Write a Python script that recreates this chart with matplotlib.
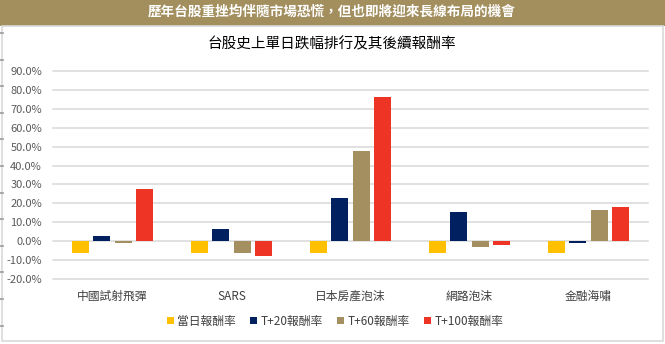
import matplotlib
matplotlib.use("Agg")
import matplotlib.pyplot as plt
from matplotlib.patches import Rectangle, Patch
from matplotlib.lines import Line2D
import numpy as np

plt.rcParams['font.family'] = ['Noto Sans CJK TC', 'DejaVu Sans']

categories = ["中國試射飛彈", "SARS", "日本房產泡沫", "網路泡沫", "金融海嘯"]
series_names = ["當日報酬率", "T+20報酬率", "T+60報酬率", "T+100報酬率"]
day0 = [-6.5, -6.5, -6.5, -6.5, -6.5]
t20 = [2.8, 6.5, 22.8, 15.4, -0.7]
t60 = [-0.8, -6.0, 47.5, -3.0, 16.5]
t100 = [27.5, -8.1, 76.0, -1.8, 18.1]
colors = ["#FFC000", "#002060", "#A38F5F", "#EE3424"]
y_ticks = [-20, -10, 0, 10, 20, 30, 40, 50, 60, 70, 80, 90]

W, H = 665, 344
fig = plt.figure(figsize=(W / 100, H / 100), dpi=100)
fig.patch.set_facecolor("white")

# banner strip across the top
fig.patches.append(Rectangle((0, 1 - 26 / H), 1, 26 / H, transform=fig.transFigure,
                             facecolor="#A38E5E", edgecolor="none", zorder=0))
fig.text(332 / W, 1 - 12 / H, "歷年台股重挫均伴隨市場恐慌，但也即將迎來長線布局的機會",
         color="white", fontsize=9.8, fontweight="bold", ha="center", va="center")

# chart frame
fig.patches.append(Rectangle((2 / W, 1 - 341 / H), 661 / W, 315 / H, transform=fig.transFigure,
                             facecolor="none", edgecolor="#D9D9D9", linewidth=1.2, zorder=0))
# small marks along the left edge
for yy in np.arange(33, 335, 26.6):
    fig.lines.append(Line2D([0, 3 / W], [1 - yy / H, 1 - yy / H], transform=fig.transFigure,
                            color="#9A9A9A", linewidth=1.2))

fig.text(332 / W, 1 - 44 / H, "台股史上單日跌幅排行及其後續報酬率",
         color="black", fontsize=10.5, ha="center", va="center")

left, right, top, bottom = 53, 648, 71, 279
ax = fig.add_axes([left / W, 1 - bottom / H, (right - left) / W, (bottom - top) / H])
ax.set_facecolor("none")

x = np.arange(len(categories))
step = 0.181
width = 0.143
for i, (vals, col, name) in enumerate(zip([day0, t20, t60, t100], colors, series_names)):
    ax.bar(x + (i - 1.5) * step, vals, width=width, color=col, label=name, zorder=3)

ax.set_xlim(-0.5, len(categories) - 0.5)
ax.set_ylim(-20, 90)
ax.set_yticks(y_ticks)
ax.set_yticklabels([f"{v:.1f}%" for v in y_ticks], color="#595959", fontsize=8)
ax.set_xticks(x)
ax.set_xticklabels(categories, color="#404040", fontsize=8.5)
ax.tick_params(axis="both", length=0)
ax.tick_params(axis="y", pad=8)
ax.tick_params(axis="x", pad=8)
ax.grid(axis="y", color="#D9D9D9", linewidth=1.1, zorder=0)
for g in ax.get_ygridlines():
    g.set_clip_on(False)
for s in ax.spines.values():
    s.set_visible(False)

handles = [Patch(facecolor=c, edgecolor="none") for c in colors]
fig.legend(handles, series_names, loc="center", bbox_to_anchor=(335 / W, 1 - 321 / H),
           ncol=4, frameon=False, fontsize=8.5, handlelength=0.6, handleheight=0.6,
           handletextpad=0.3, columnspacing=1.2, labelcolor="#404040")

fig.savefig("out.png", dpi=100, facecolor="white")
